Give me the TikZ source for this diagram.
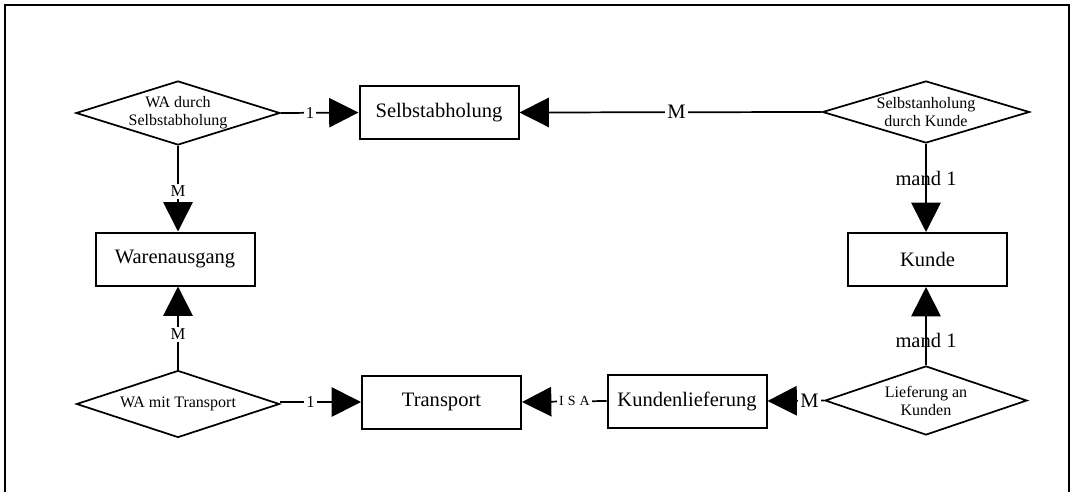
\documentclass[tikz,border=0pt]{standalone}
\usepackage{fontspec}
\setmainfont{Liberation Serif}
\usetikzlibrary{shapes.geometric,arrows.meta}
\begin{document}
\begin{tikzpicture}[x=0.75pt,y=-0.75pt,
  entity/.style={draw, line width=1.5pt, minimum width=119.25pt, minimum height=39.75pt,
                 inner sep=0pt, font=\fontsize{15.4}{18}\selectfont},
  rel/.style={draw, diamond, line width=1.3pt, inner sep=0pt},
  reltext/.style={align=center, inner sep=0pt, font=\fontsize{12}{13.5}\selectfont},
  conn/.style={line width=1.3pt, -{Triangle[length=22pt,width=22pt]}},
  card/.style={fill=white, inner sep=1.5pt, font=\fontsize{12.5}{14}\selectfont},
  cardbig/.style={fill=white, inner sep=1.5pt, font=\fontsize{15.4}{18}\selectfont},
  cardthru/.style={inner sep=1pt, font=\fontsize{15.4}{18}\selectfont},
  isa/.style={fill=white, inner sep=1.5pt, font=\fontsize{10.5}{12}\selectfont},
]
\useasboundingbox (0,0) rectangle (1073,492);
% page frame, open at the bottom
\draw[line width=1.3pt] (5,492) |- (1069,5) -- (1069,492);

% relationships
\node[rel, minimum width=153pt, minimum height=48pt,
      label={[reltext]center:{WA durch\\Selbstabholung}}] (d1) at (178,113) {};
\node[rel, minimum width=155.25pt, minimum height=46.5pt,
      label={[reltext]center:{Selbstanholung\\durch Kunde}}] (d2) at (926,112) {};
\node[rel, minimum width=152.25pt, minimum height=50.25pt,
      label={[reltext]center:{WA mit Transport}}] (d3) at (178,404) {};
\node[rel, minimum width=151.5pt, minimum height=51.75pt,
      label={[reltext]center:{Lieferung an\\Kunden}}] (d4) at (926,400.5) {};

% entities
\node[entity] (b1) at (439,112.5) {Selbstabholung};
\node[entity] (b2) at (175,259) {Warenausgang};
\node[entity] (b3) at (927.5,259.5) {Kunde};
\node[entity] (b4) at (441.5,402) {Transport};
\node[entity] (b5) at (687,401) {Kundenlieferung};

% connectors
\draw[conn] (d1.east) -- node[card,pos=0.375]{1} (b1.west);
\draw[conn] (d2.west) -- node[cardbig,pos=0.48]{M} (b1.east);
\draw[conn] (d1.south) -- node[card,pos=0.53]{M} (d1.south |- b2.north);
\draw[conn] (d3.north) -- node[card,pos=0.425]{M} (d3.north |- b2.south);
\draw[conn] (b4.west -| d3.east) -- node[card,pos=0.375]{1} (b4.west);
\draw[conn] (b5.west) -- node[isa,pos=0.38]{I\kern3pt S\kern3pt A} (b4.east);
\draw[conn] (d4.west) -- node[cardbig,pos=0.26]{M} (b5.east);
\draw[conn] (d2.south) -- node[cardthru,pos=0.39]{mand 1} (d2.south |- b3.north);
\draw[conn] (d4.north) -- node[cardthru,pos=0.32]{mand 1} (d4.north |- b3.south);
\end{tikzpicture}
\end{document}
